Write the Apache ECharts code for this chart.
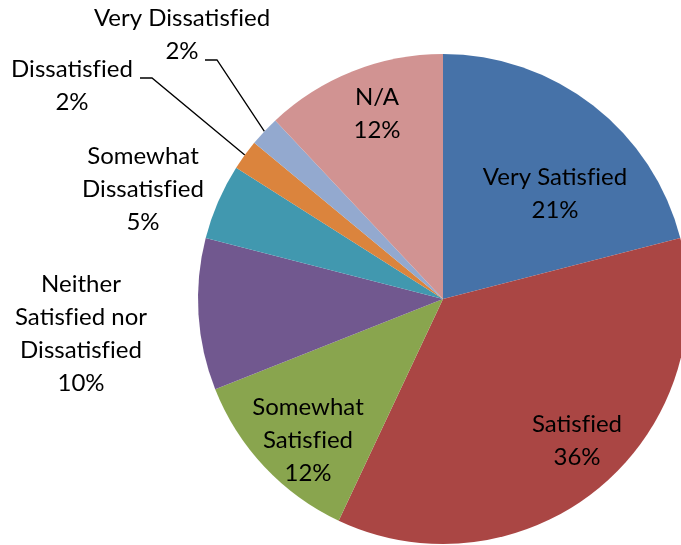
<!DOCTYPE html>
<html>
<head>
<meta charset="utf-8">
<script src="https://cdn.jsdelivr.net/npm/echarts@6/dist/echarts.min.js"></script>
<style>
  html, body { margin: 0; padding: 0; background: #fff; }
  #chart { width: 681px; height: 545px; }
</style>
</head>
<body>
<div id="chart"></div>
<script>
// Survey responses, clockwise from 12 o'clock
const categories = [
  'Very Satisfied', 'Satisfied', 'Somewhat Satisfied',
  'Neither Satisfied nor Dissatisfied', 'Somewhat Dissatisfied',
  'Dissatisfied', 'Very Dissatisfied', 'N/A'
];
const shares = [21, 36, 12, 10, 5, 2, 2, 12];

// How each category name wraps in its label
const labelLines = [
  'Very Satisfied', 'Satisfied', 'Somewhat\nSatisfied',
  'Neither\nSatisfied nor\nDissatisfied', 'Somewhat\nDissatisfied',
  'Dissatisfied', 'Very Dissatisfied', 'N/A'
];

const colors = ['#4672A8', '#AA4644', '#89A54E', '#71588F', '#4198AF', '#DB843D', '#93A9CF', '#D19392'];

// Label block centres (px)
const labelCentres = [
  [555, 194], [577, 441], [308, 440], [81, 334],
  [143, 189], [72, 86], [182, 35], [377, 114]
];
// Slices whose labels sit outside with a leader line
const leaderSlices = [5, 6];
// Where each leader line meets its label (left end of the short horizontal)
const leaderEnds = { 5: [140, 78], 6: [205, 60] };

const font = 'Lato, "Open Sans", sans-serif';
const center = [443, 299];
const radius = 245;

// keep "f" and "i" as separate glyphs (no ligature)
const noLigature = s => s.replace(/fi/g, 'f\u200Ci');

const chart = echarts.init(document.getElementById('chart'), null, { renderer: 'canvas' });

chart.setOption({
  animation: false,
  backgroundColor: '#ffffff',
  series: [
    {
      type: 'pie',
      center: center,
      radius: radius,
      startAngle: 90,
      clockwise: true,
      avoidLabelOverlap: false,
      silent: true,
      itemStyle: { borderWidth: 0 },
      label: {
        show: true,
        position: 'inside',
        color: '#000',
        fontFamily: font,
        fontSize: 24,
        lineHeight: 33,
        align: 'center',
        formatter: p => noLigature(labelLines[p.dataIndex]) + '\n' + p.value + '%'
      },
      labelLine: { show: false },
      labelLayout: p => ({
        x: labelCentres[p.dataIndex][0],
        y: labelCentres[p.dataIndex][1],
        align: 'center',
        verticalAlign: 'middle'
      }),
      data: categories.map((name, i) => ({
        name: name,
        value: shares[i],
        itemStyle: { color: colors[i] }
      }))
    },
    {
      // Transparent overlay that carries the leader lines of the small slices
      type: 'pie',
      center: center,
      radius: radius,
      startAngle: 90,
      clockwise: true,
      avoidLabelOverlap: false,
      silent: true,
      itemStyle: { color: 'rgba(0,0,0,0)', borderWidth: 0 },
      label: {
        show: true,
        position: 'outside',
        formatter: ' ',
        fontSize: 1,
        lineHeight: 1,
        padding: [0, 0, 0, 40],
        color: 'rgba(0,0,0,0)'
      },
      labelLine: {
        show: true,
        length: 10,
        length2: 12,
        minTurnAngle: 90,
        smooth: false,
        lineStyle: { color: '#000', width: 1.3 }
      },
      labelLayout: p => {
        const end = leaderEnds[p.dataIndex];
        if (!end) return {};
        return { x: end[0], y: end[1], align: 'right', verticalAlign: 'middle' };
      },
      data: categories.map((name, i) => ({
        name: name,
        value: shares[i],
        label: { show: leaderSlices.includes(i) },
        labelLine: { show: leaderSlices.includes(i) }
      }))
    }
  ]
});
</script>
</body>
</html>
